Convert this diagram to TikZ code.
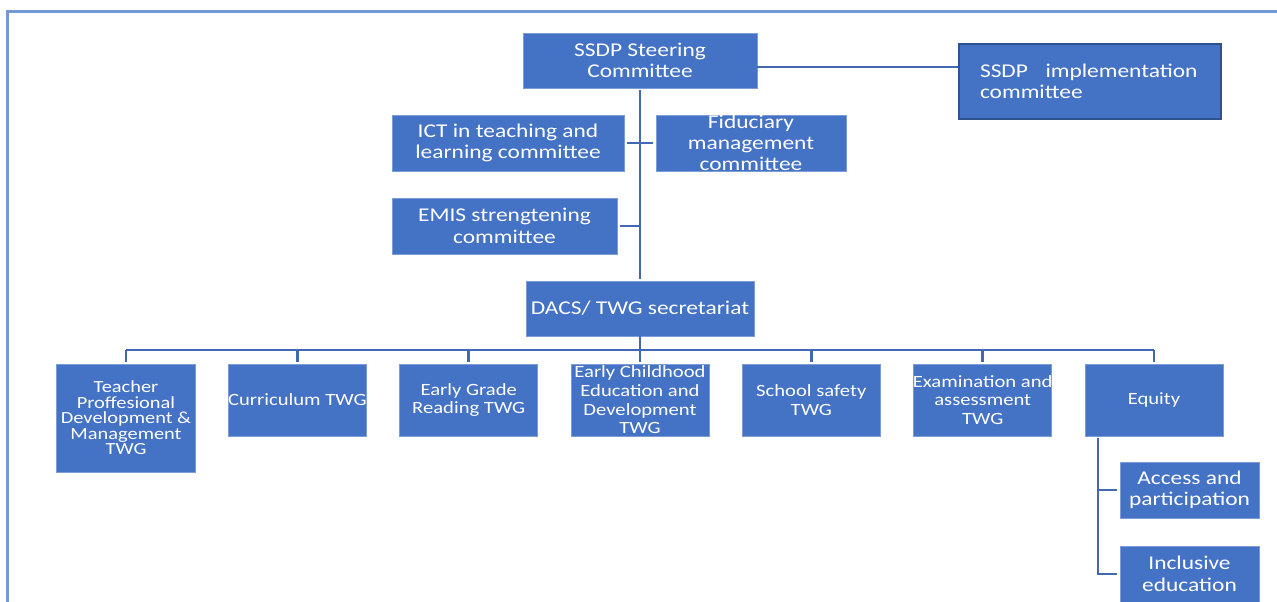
\documentclass[tikz,border=0pt]{standalone}
\usepackage{fontspec}
\setmainfont{Carlito}[FakeStretch=1.2]
\definecolor{boxblue}{HTML}{4472C4}
\definecolor{boxedge}{HTML}{7C9CD6}
\definecolor{linkblue}{HTML}{4168B2}
\definecolor{frameblue}{HTML}{7299D3}
\definecolor{darkedge}{HTML}{2F528F}
\tikzset{
  box/.style={rectangle, fill=boxblue, draw=boxedge, line width=0.8pt, text=white, align=center, inner sep=1pt},
  txt/.style={text=white, align=center, inner sep=0pt},
  bigfont/.style={font=\fontsize{19.5}{21.5}\selectfont},
  rowfont/.style={font=\fontsize{17.2}{18.7}\selectfont},
  conn/.style={draw=linkblue, line width=2.5pt},
  thinconn/.style={draw=linkblue, line width=1.5pt},
  frameline/.style={draw=frameblue, line width=2.5pt}
}
\begin{document}
\begin{tikzpicture}[x=1pt, y=-1pt]
\useasboundingbox (0,0) rectangle (1277,602);
\fill[white] (0,0) rectangle (1277,602);
% frame
\draw[frameline] (7.5,602) -- (7.5,11.5) -- (1277,11.5);

% top
\node[box, bigfont, minimum width=234, minimum height=55] (steer) at (640,60.5) {SSDP Steering\\Committee};
\node[box, bigfont, draw=darkedge, line width=2.2pt, minimum width=262, minimum height=75, text width=220, inner xsep=21pt, align=left] (impl) at (1090,81.5) {SSDP\hspace{0.9em}implementation\\committee\\[7pt]};
\coordinate (sl) at ([yshift=-6.5pt]steer.east);
\draw[thinconn] (sl) -- (sl -| impl.west);

\node[box, bigfont, minimum width=232, minimum height=56] (ict) at (508,143) {ICT in teaching and\\learning committee};
\node[box, minimum width=190, minimum height=56] (fid) at (751,143) {};
\node[txt, font=\fontsize{19.5}{21}\selectfont] (fidt) at (fid.center) {Fiduciary\\management\\committee};
\node[box, bigfont, minimum width=225, minimum height=56] (emis) at (504.5,226) {EMIS strengtening\\committee};

\node[box, bigfont, minimum width=228, minimum height=55] (dacs) at (640,308.5) {DACS/ TWG secretariat};

\draw[conn] ([yshift=-2pt]steer.south) -- ([yshift=2pt]dacs.north);
\draw[conn, shorten <=3pt, shorten >=3pt] (ict.east) -- (fid.west);
\draw[conn, shorten <=3pt] (emis.east) -- (emis.east -| dacs.north);

% row
\coordinate (bus) at (640,350);
\node[box, minimum width=139, minimum height=108] (tpd) at (126,418) {};
\node[txt, font=\fontsize{17}{15.5}\selectfont] (tpdt) at (tpd.center) {Teacher\\Proffesional\\Development \&\\Management\\TWG};
\node[box, minimum width=138, minimum height=72] (cur) at (297.3,400) {};
\node[txt, rowfont] (curt) at (cur.center) {Curriculum TWG};
\node[box, rowfont, minimum width=138, minimum height=72] (egr) at (468.7,400) {Early Grade\\Reading TWG};
\node[box, minimum width=138, minimum height=72] (ece) at (640,400) {};
\node[txt, rowfont] (ecet) at (ece.center) {Early Childhood\\Education and\\Development\\TWG};
\node[box, rowfont, minimum width=138, minimum height=72] (ss) at (811.3,400) {School safety\\TWG};
\node[box, minimum width=138, minimum height=72] (ea) at (982.7,400) {};
\node[txt, rowfont] (eat) at (ea.center) {Examination and\\assessment\\TWG};
\node[box, rowfont, minimum width=138, minimum height=72] (eq) at (1154,400) {Equity};

\draw[conn] (dacs.south) -- (bus);
\draw[conn] (bus -| tpd.north) -- (bus -| eq.north);
\foreach \n in {tpd,cur,egr,ece,ss,ea,eq}{
  \draw[conn] (bus -| \n.north) -- ([yshift=2pt]\n.north);
}

% equity sub-items
\node[box, bigfont, minimum width=139, minimum height=56] (acc) at (1189.5,490) {Access and\\participation};
\node[box, bigfont, minimum width=139, minimum height=56] (inc) at (1189.5,574) {Inclusive\\education};
\coordinate (eqb) at (1098,438);
\draw[conn, shorten >=3pt] (eqb) |- (acc.west);
\draw[conn, shorten >=3pt] (eqb) |- (inc.west);
\end{tikzpicture}
\end{document}
